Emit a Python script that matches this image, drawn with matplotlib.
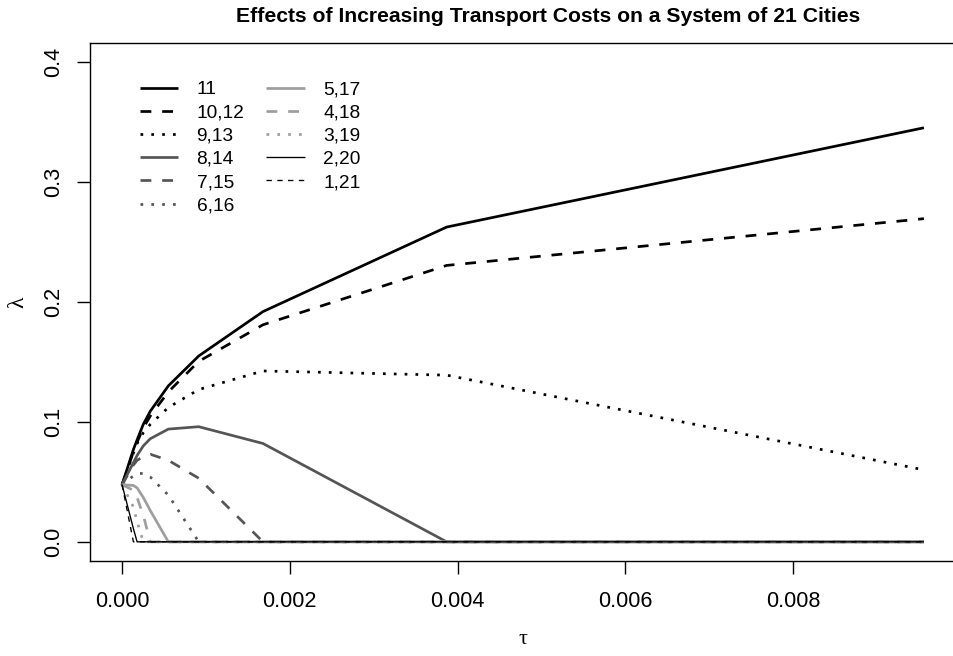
import matplotlib
matplotlib.use("Agg")
import matplotlib.pyplot as plt

# ---- data ----
tau = [0.0, 0.000135, 0.000179, 0.000253, 0.000337, 0.000551, 0.000914, 0.00168, 0.00387, 0.00956]

city_11    = [0.0476, 0.077, 0.085, 0.098, 0.109, 0.130, 0.155, 0.192, 0.2625, 0.3453]
city_10_12 = [0.0476, 0.075, 0.083, 0.095, 0.105, 0.125, 0.1505, 0.181, 0.2305, 0.2695]
city_9_13  = [0.0476, 0.074, 0.082, 0.091, 0.098, 0.112, 0.127, 0.1425, 0.139, 0.060]
city_8_14  = [0.0476, 0.066, 0.072, 0.080, 0.086, 0.094, 0.096, 0.082, 0.0, 0.0]
city_7_15  = [0.0476, 0.064, 0.068, 0.071, 0.073, 0.068, 0.053, 0.0, 0.0, 0.0]
city_6_16  = [0.0476, 0.055, 0.057, 0.057, 0.054, 0.039, 0.0, 0.0, 0.0, 0.0]
city_5_17  = [0.0476, 0.047, 0.045, 0.037, 0.026, 0.0, 0.0, 0.0, 0.0, 0.0]
city_4_18  = [0.0476, 0.043, 0.037, 0.022, 0.0, 0.0, 0.0, 0.0, 0.0, 0.0]
city_3_19  = [0.0476, 0.029, 0.017, 0.0, 0.0, 0.0, 0.0, 0.0, 0.0, 0.0]
city_2_20  = [0.0476, 0.011, 0.0, 0.0, 0.0, 0.0, 0.0, 0.0, 0.0, 0.0]
city_1_21  = [0.0476, 0.0, 0.0, 0.0, 0.0, 0.0, 0.0, 0.0, 0.0, 0.0]

labels = ["11", "10,12", "9,13", "8,14", "7,15", "6,16", "5,17", "4,18", "3,19", "2,20", "1,21"]
series = [city_11, city_10_12, city_9_13, city_8_14, city_7_15, city_6_16,
          city_5_17, city_4_18, city_3_19, city_2_20, city_1_21]
x_ticks = [0.000, 0.002, 0.004, 0.006, 0.008]
y_ticks = [0.0, 0.1, 0.2, 0.3, 0.4]

# ---- styles ----
BLACK, DARK, LIGHT = "#000000", "#555555", "#9E9E9E"
SOLID, DASH, DOT = "-", (0, (4, 4)), (0, (1, 3))
THICK, THIN = 1.95, 0.97
styles = [
    (BLACK, SOLID, THICK), (BLACK, DASH, THICK), (BLACK, DOT, THICK),
    (DARK, SOLID, THICK), (DARK, DASH, THICK), (DARK, DOT, THICK),
    (LIGHT, SOLID, THICK), (LIGHT, DASH, THICK), (LIGHT, DOT, THICK),
    (BLACK, SOLID, THIN), (BLACK, DASH, THIN),
]

plt.rcParams["font.family"] = ["Liberation Sans", "DejaVu Sans"]

W, H = 954, 656
fig = plt.figure(figsize=(W / 100, H / 100), dpi=100)
left_px, right_px, top_px, bottom_px = 90.0, 956.0, 43, 561
ax = fig.add_axes([left_px / W, 1 - bottom_px / H,
                   (right_px - left_px) / W, (bottom_px - top_px) / H])

for vals, lab, (c, ls, lw) in zip(series, labels, styles):
    ax.plot(tau, vals, color=c, linestyle=ls, linewidth=lw, label=lab,
            solid_capstyle="butt", dash_capstyle="butt")

xmax = max(tau)
ax.set_xlim(-0.04 * xmax, 1.04 * xmax)
ax.set_ylim(-0.016, 0.416)
ax.set_xticks(x_ticks)
ax.set_xticklabels([f"{v:.3f}" for v in x_ticks])
ax.set_yticks(y_ticks)
ax.set_yticklabels([f"{v:.1f}" for v in y_ticks])

for s in ax.spines.values():
    s.set_linewidth(1.0)
    s.set_color("black")

ax.tick_params(axis="both", direction="out", length=9.4, width=1.0,
               labelsize=15.6, colors="black")
ax.tick_params(axis="x", pad=12)
ax.tick_params(axis="y", pad=9, labelrotation=90)
for t in ax.get_yticklabels():
    t.set_va("center")

ax.set_xlabel("τ", fontsize=16, family=["Liberation Serif", "DejaVu Serif"], va="center")
ax.xaxis.set_label_coords(0.5, -(640 - bottom_px) / (bottom_px - top_px))
ax.set_ylabel("λ", fontsize=17, family=["Liberation Serif", "DejaVu Serif"], va="center")
ax.yaxis.set_label_coords((18 - left_px) / (right_px - left_px), 0.5)

fig.text(548 / W, 1 - 17 / H,
         "Effects of Increasing Transport Costs on a System of 21 Cities",
         ha="center", va="center", fontsize=15.2, fontweight="bold")

leg = ax.legend(ncol=2, frameon=False, loc="upper left",
                bbox_to_anchor=((140 - left_px) / (right_px - left_px), 1 - (81 - top_px) / (bottom_px - top_px)),
                borderaxespad=0, borderpad=0, fontsize=13.8,
                handlelength=2.0, handletextpad=0.95, columnspacing=1.15,
                labelspacing=0.3)

fig.savefig("out.png", dpi=100)
